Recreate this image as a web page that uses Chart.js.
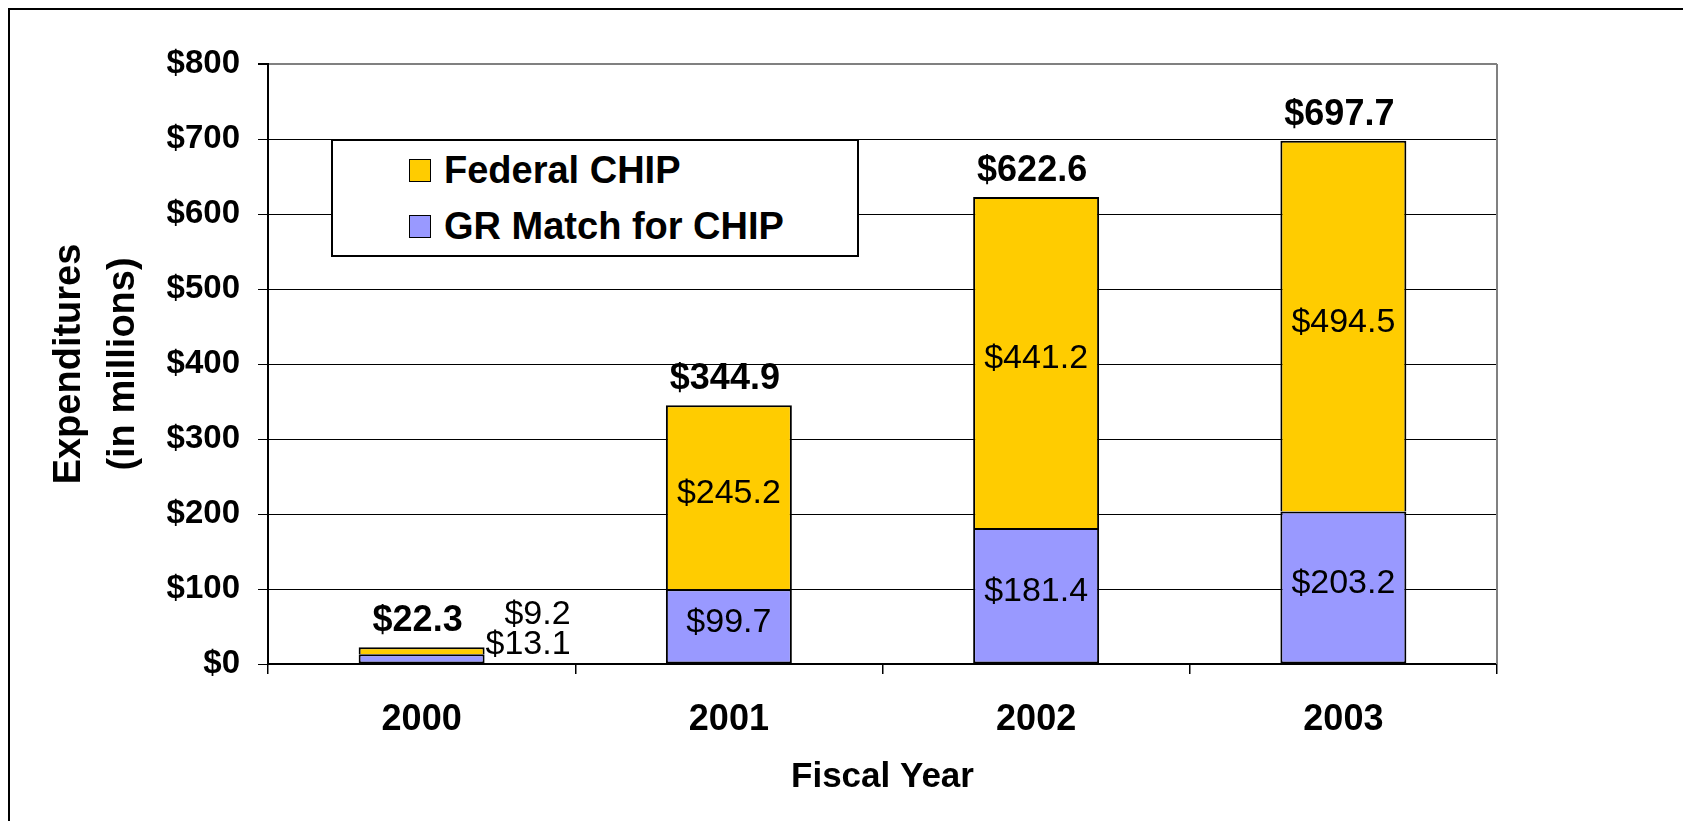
<!DOCTYPE html>
<html>
<head>
<meta charset="utf-8">
<title>CHIP Expenditures</title>
<script src="https://cdn.jsdelivr.net/npm/chart.js@4.4.1/dist/chart.umd.min.js"></script>
<style>
  body { margin: 0; background: #fff; }
  #wrap { position: relative; width: 1683px; height: 821px; overflow: hidden; background: #fff; }
  #frame { position: absolute; left: 8px; top: 8px; width: 3000px; height: 3000px; border: 2px solid #000; }
  #chart { position: absolute; left: 0; top: 0; }
  #legend {
    position: absolute; left: 331px; top: 139px; width: 524px; height: 114px;
    border: 2px solid #000; background: #fff;
    font: bold 38px "Liberation Sans", Arial, sans-serif; color: #000;
  }
  .item { position: absolute; left: 76px; height: 56px; display: flex; align-items: center; white-space: nowrap; }
  .swatch { width: 20px; height: 21px; border: 1.5px solid #000; margin-right: 13px; }
</style>
</head>
<body>
<div id="wrap">
  <div id="frame"></div>
  <canvas id="chart" width="1683" height="821"></canvas>
  <div id="legend"></div>
</div>
<script>
const years = ['2000', '2001', '2002', '2003'];
const grMatch = [13.1, 99.7, 181.4, 203.2];
const federal = [9.2, 245.2, 441.2, 494.5];
const totals = [22.3, 344.9, 622.6, 697.7];

const FONT = '"Liberation Sans", Arial, sans-serif';
Chart.defaults.font.family = FONT;
Chart.defaults.color = '#000';

// segment values inside the bars, totals above the stacks
const barLabels = {
  id: 'barLabels',
  afterDatasetsDraw(chart) {
    const ctx = chart.ctx;
    const y = chart.scales.y;
    const zero = y.getPixelForValue(0);
    ctx.save();
    ctx.fillStyle = '#000';
    ctx.textBaseline = 'middle';
    ctx.font = '34px ' + FONT;
    chart.data.datasets.forEach((ds, di) => {
      chart.getDatasetMeta(di).data.forEach((bar, i) => {
        const txt = '$' + ds.data[i].toFixed(1);
        if (bar.base - bar.y > 40) {
          ctx.textAlign = 'center';
          ctx.fillText(txt, bar.x, (bar.y + bar.base) / 2 - 4);
        } else {
          // too thin, put it beside the bar
          ctx.textAlign = 'right';
          ctx.fillText(txt, bar.x + bar.width / 2 + 86, zero - 19 - 30 * di);
        }
      });
    });
    const top = chart.getDatasetMeta(chart.data.datasets.length - 1);
    ctx.font = 'bold 36px ' + FONT;
    ctx.textAlign = 'center';
    ctx.textBaseline = 'alphabetic';
    totals.forEach((t, i) => {
      ctx.fillText('$' + t.toFixed(1), top.data[i].x - 4, y.getPixelForValue(t) - 16);
    });
    ctx.restore();
  },
  beforeDatasetsDraw(chart) {
    const a = chart.chartArea;
    const ctx = chart.ctx;
    ctx.save();
    ctx.strokeStyle = '#808080';
    ctx.lineWidth = 2;
    ctx.beginPath();
    ctx.moveTo(a.right, a.top);
    ctx.lineTo(a.right, a.bottom);
    ctx.stroke();
    ctx.restore();
  }
};

const chart = new Chart(document.getElementById('chart'), {
  type: 'bar',
  data: {
    labels: years,
    datasets: [
      {
        label: 'GR Match for CHIP',
        data: grMatch,
        backgroundColor: '#9999FF',
        borderColor: '#000',
        borderWidth: 2,
        borderSkipped: false,
      },
      {
        label: 'Federal CHIP',
        data: federal,
        backgroundColor: '#FFCC00',
        borderColor: '#000',
        // no bottom edge, the lower segment already draws it
        borderWidth: { top: 2, left: 2, right: 2, bottom: 0 },
        borderSkipped: false,
      },
    ],
  },
  options: {
    responsive: false,
    devicePixelRatio: 1,
    animation: false,
    layout: { padding: { left: 20, top: 64, right: 186, bottom: 0 } },
    datasets: { bar: { categoryPercentage: 1, barPercentage: 0.41 } },
    plugins: { legend: { display: false }, tooltip: { enabled: false } },
    scales: {
      x: {
        stacked: true,
        border: { color: '#000', width: 2 },
        grid: { offset: true, drawOnChartArea: false, tickLength: 10, tickColor: '#000', lineWidth: 1.5 },
        ticks: { padding: 24, font: { size: 36, weight: 'bold' } },
        title: {
          display: true,
          text: 'Fiscal Year',
          font: { size: 35, weight: 'bold' },
          padding: { top: 0, bottom: 23 },
        },
        afterFit(scale) { scale.height = 157; },
      },
      y: {
        stacked: true,
        min: 0,
        max: 800,
        border: { color: '#000', width: 2 },
        grid: {
          color: c => (c.tick && c.tick.value === 800 ? '#808080' : '#000'),
          lineWidth: c => (c.tick && c.tick.value === 800 ? 2 : 1),
          tickColor: '#000',
          tickLength: 10,
        },
        ticks: {
          stepSize: 100,
          padding: 18,
          font: { size: 33, weight: 'bold' },
          callback: v => '$' + v,
        },
        title: {
          display: true,
          text: ['Expenditures', '(in millions)'],
          font: { size: 38, weight: 'bold', lineHeight: 1.42 },
          padding: { top: 23, bottom: 0 },
        },
        afterFit(scale) { scale.width = 248; },
      },
    },
  },
  plugins: [barLabels],
});

// legend box drawn as html, top to bottom like the stack
const legend = document.getElementById('legend');
chart.data.datasets.slice().reverse().forEach((ds, i) => {
  const item = document.createElement('div');
  item.className = 'item';
  item.style.top = (1 + i * 56) + 'px';
  const sw = document.createElement('span');
  sw.className = 'swatch';
  sw.style.background = ds.backgroundColor;
  item.appendChild(sw);
  item.appendChild(document.createTextNode(ds.label));
  legend.appendChild(item);
});
</script>
</body>
</html>
